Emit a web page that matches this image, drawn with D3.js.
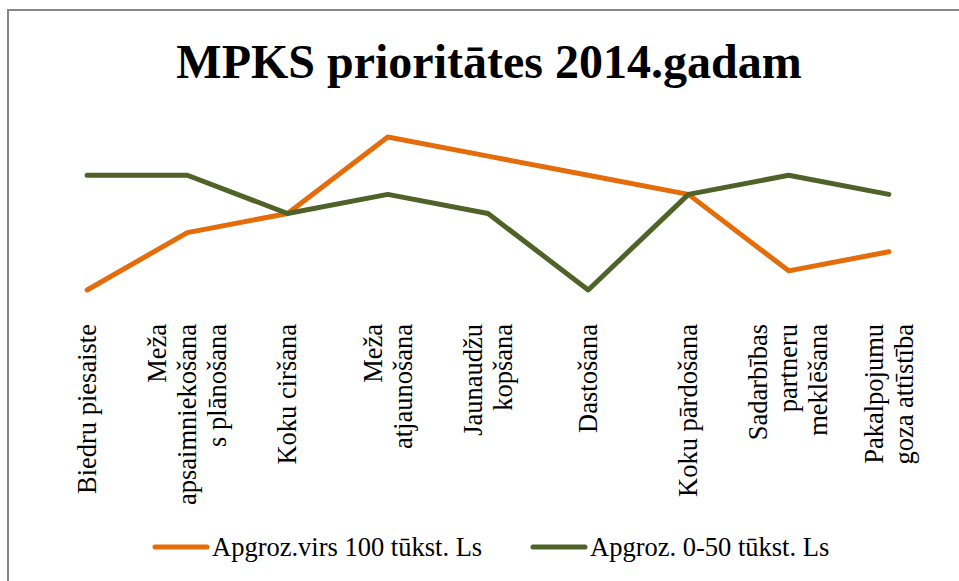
<!DOCTYPE html>
<html>
<head>
<meta charset="utf-8">
<script src="https://cdn.jsdelivr.net/npm/d3@7"></script>
<style>
  html, body { margin: 0; padding: 0; background: #ffffff; }
  svg { display: block; }
</style>
</head>
<body>
<svg id="chart" width="959" height="581"></svg>
<script>
// ---- Data ----
const title = "MPKS prioritātes 2014.gadam";
const categories = [
  "Biedru piesaiste",
  "Meža\napsaimniekošana\ns plānošana",
  "Koku ciršana",
  "Meža\natjaunošana",
  "Jaunaudžu\nkopšana",
  "Dastošana",
  "Koku pārdošana",
  "Sadarbības\npartneru\nmeklēšana",
  "Pakalpojumu\ngoza attīstība"
];
const seriesNames = ["Apgroz.virs 100 tūkst. Ls", "Apgroz. 0-50 tūkst. Ls"];
const seriesOver100 = [1, 4, 5, 9, 8, 7, 6, 2, 3];
const series0to50 = [7, 7, 5, 6, 5, 1, 6, 7, 6];
const seriesColors = ["#E46C0A", "#4F6228"];

// ---- Drawing ----
const svg = d3.select("#chart");
const W = 959, H = 581;
const serif = "'Liberation Serif', 'Times New Roman', serif";

svg.append("rect").attr("x", 0).attr("y", 0).attr("width", W).attr("height", H).attr("fill", "#fff");
// chart border
svg.append("rect")
  .attr("x", 8).attr("y", 10).attr("width", 980).attr("height", 600)
  .attr("fill", "none").attr("stroke", "#868686").attr("stroke-width", 2);

// title
svg.append("text")
  .attr("x", 489).attr("y", 78)
  .attr("text-anchor", "middle")
  .style("font-family", serif)
  .attr("font-weight", "bold")
  .attr("font-size", 48)
  .attr("fill", "#000")
  .text(title);

const x = d3.scalePoint().domain(categories).range([37, 939]).padding(0.5);
const y = d3.scaleLinear().domain([0, 10]).range([309.1, 117.9]);

const data = [seriesOver100, series0to50];
const line = d3.line()
  .x((d, i) => x(categories[i]))
  .y(d => y(d));

svg.selectAll("path.series")
  .data(data)
  .join("path")
  .attr("class", "series")
  .attr("d", line)
  .attr("fill", "none")
  .attr("stroke", (d, i) => seriesColors[i])
  .attr("stroke-width", 5)
  .attr("stroke-linecap", "round")
  .attr("stroke-linejoin", "round");

// category labels (rotated)
const fontSize = 26.5;
const lineH = 30;
const labelTop = 324;
const lab = svg.append("g")
  .style("font-family", serif)
  .attr("font-size", fontSize)
  .attr("fill", "#000");

categories.forEach(c => {
  const lines = c.split("\n");
  const n = lines.length;
  const t = lab.append("text")
    .style("font-family", serif)
    .attr("transform", `translate(${x(c)},${labelTop}) rotate(-90)`)
    .attr("text-anchor", "end");
  lines.forEach((ln, i) => {
    t.append("tspan")
      .attr("x", 0)
      .attr("y", (i - (n - 1) / 2) * lineH + fontSize * 0.33)
      .text(ln);
  });
});

// legend
const legendItems = [
  { x1: 155, x2: 207, tx: 212 },
  { x1: 533, x2: 585, tx: 590 }
];
const ly = 547;
legendItems.forEach((it, i) => {
  svg.append("line")
    .attr("x1", it.x1).attr("x2", it.x2)
    .attr("y1", ly).attr("y2", ly)
    .attr("stroke", seriesColors[i])
    .attr("stroke-width", 5)
    .attr("stroke-linecap", "round");
  svg.append("text")
    .attr("x", it.tx).attr("y", ly + 9)
    .style("font-family", serif)
    .attr("font-size", fontSize)
    .attr("fill", "#000")
    .text(seriesNames[i]);
});
</script>
</body>
</html>
